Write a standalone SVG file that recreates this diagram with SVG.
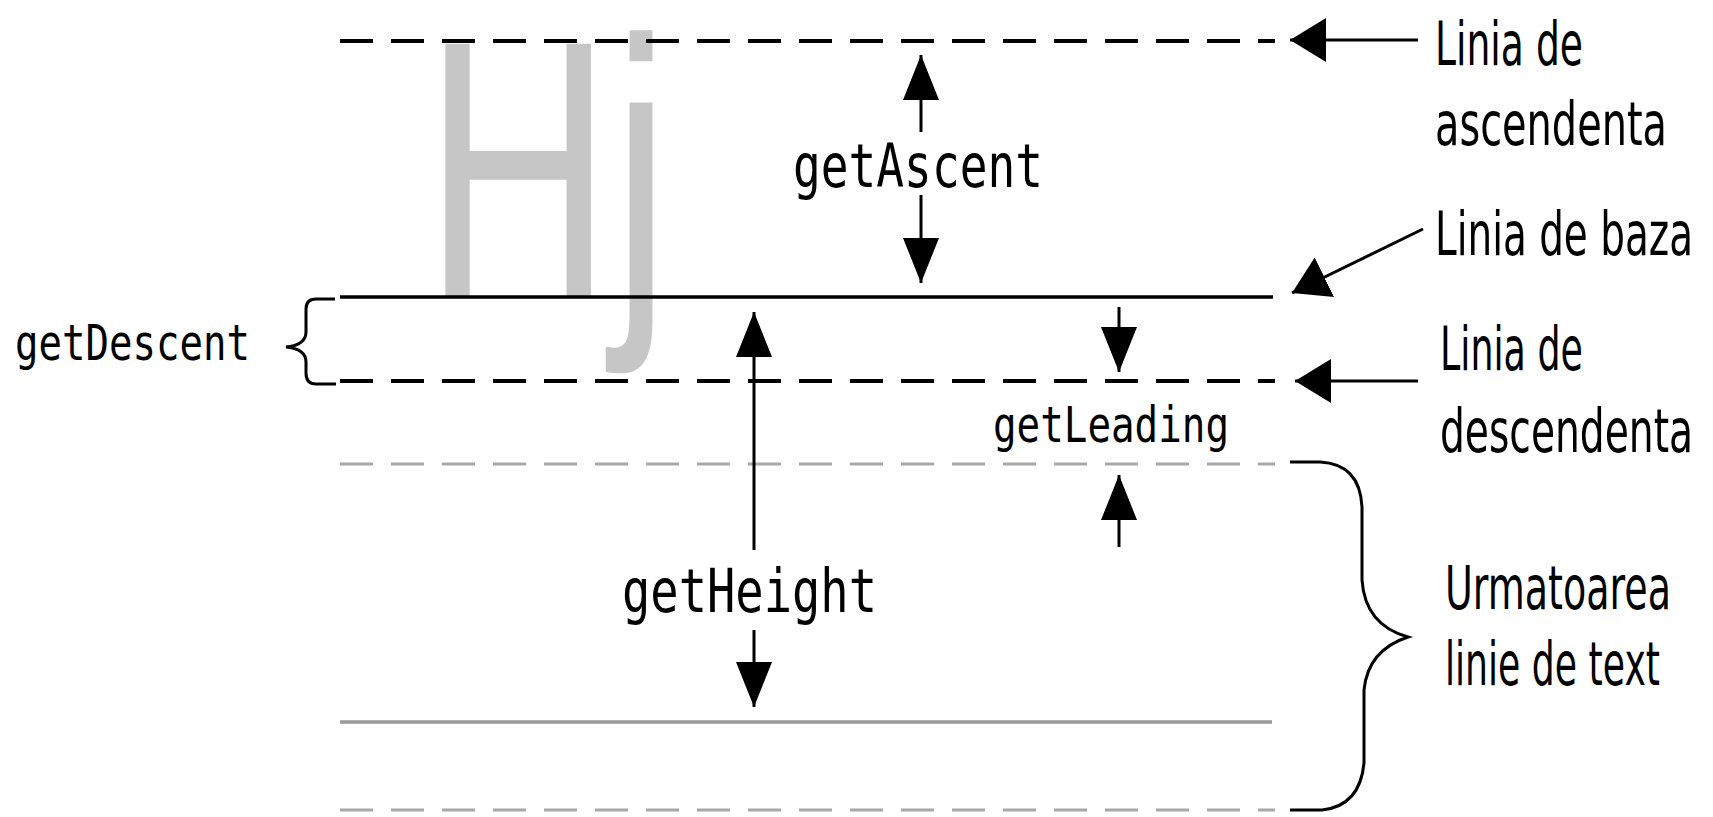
<svg xmlns="http://www.w3.org/2000/svg" width="1713" height="817" viewBox="0 0 1713 817">
<style>
.bg{fill:#ffffff}
.dash{stroke:#000;stroke-width:4;stroke-dasharray:33 18;fill:none}
.gdash{stroke:#a8a8a8;stroke-width:3;stroke-dasharray:33 18;fill:none}
.solid{stroke:#000;stroke-width:3.5;fill:none}
.gsolid{stroke:#9a9a9a;stroke-width:3.5;fill:none}
.arr{stroke:#000;stroke-width:3;fill:none}
.brace{stroke:#000;stroke-width:3;fill:none}
.mono{font-family:"DejaVu Sans Mono","Liberation Mono",monospace;fill:#000}
.sans{font-family:"DejaVu Sans","Liberation Sans",sans-serif;font-size:60px;fill:#000}
.glyph{font-family:"Liberation Sans","Arial",sans-serif;font-size:368px;fill:#c6c6c6}
</style>
<defs>
<marker id="av" viewBox="0 0 45 36" markerWidth="45" markerHeight="36" refX="45" refY="18" orient="auto" markerUnits="userSpaceOnUse"><path d="M0,0 L45,18 L0,36 z" fill="#000"/></marker>
<marker id="ah" viewBox="0 0 36 44" markerWidth="36" markerHeight="44" refX="36" refY="22" orient="auto" markerUnits="userSpaceOnUse"><path d="M0,0 L36,22 L0,44 z" fill="#000"/></marker>
</defs>
<rect class="bg" x="0" y="0" width="1713" height="817"/>

<g id="sample-glyphs">
<text class="glyph" x="424" y="297" textLength="246" lengthAdjust="spacingAndGlyphs">Hj</text>
</g>

<g id="lines">
<line id="ascent-line" class="dash" x1="340" y1="41" x2="1275" y2="41"/>
<line id="base-line" class="solid" x1="340" y1="297" x2="1273" y2="297"/>
<line id="descent-line" class="dash" x1="340" y1="381" x2="1275" y2="381"/>
<line id="next-ascent-line" class="gdash" x1="340" y1="464" x2="1275" y2="464"/>
<line id="next-base-line" class="gsolid" x1="340" y1="722" x2="1272" y2="722"/>
<line id="next-descent-line" class="gdash" x1="340" y1="810" x2="1275" y2="810"/>
</g>

<g id="connectors">
<line class="arr" x1="1418" y1="40" x2="1290" y2="40" marker-end="url(#ah)"/>
<line class="arr" x1="1423" y1="229" x2="1292" y2="293" marker-end="url(#ah)"/>
<line class="arr" x1="1418" y1="381" x2="1295" y2="381" marker-end="url(#ah)"/>
<line class="arr" x1="921" y1="132" x2="921" y2="55" marker-end="url(#av)"/>
<line class="arr" x1="921" y1="195" x2="921" y2="283" marker-end="url(#av)"/>
<line class="arr" x1="1119" y1="307" x2="1119" y2="372" marker-end="url(#av)"/>
<line class="arr" x1="1119" y1="547" x2="1119" y2="475" marker-end="url(#av)"/>
<line class="arr" x1="754" y1="550" x2="754" y2="312" marker-end="url(#av)"/>
<line class="arr" x1="754" y1="630" x2="754" y2="707" marker-end="url(#av)"/>
<path class="brace" d="M335,299 H316 Q306,299 306,309 V332 Q306,345 286,347 Q306,349 306,362 V373 Q306,384 316,384 H336"/>
<path class="brace" d="M1290,462 H1320 Q1360,464 1362,507 V580 Q1365,625 1408,637 Q1368,650 1364,690 V763 Q1360,806 1322,810 H1290"/>
</g>

<g id="label-getAscent"><text class="mono" x="793" y="187" font-size="60" textLength="250" lengthAdjust="spacingAndGlyphs">getAscent</text></g>
<g id="label-getDescent"><text class="mono" x="15" y="360" font-size="50" textLength="235" lengthAdjust="spacingAndGlyphs">getDescent</text></g>
<g id="label-getLeading"><text class="mono" x="993" y="442" font-size="50" textLength="236" lengthAdjust="spacingAndGlyphs">getLeading</text></g>
<g id="label-getHeight"><text class="mono" x="622" y="612" font-size="60" textLength="255" lengthAdjust="spacingAndGlyphs">getHeight</text></g>

<g id="label-ascendenta">
<text class="sans" x="1435" y="65" textLength="148" lengthAdjust="spacingAndGlyphs">Linia de</text>
<text class="sans" x="1435" y="145" textLength="232" lengthAdjust="spacingAndGlyphs">ascendenta</text>
</g>
<g id="label-baza">
<text class="sans" x="1435" y="255" textLength="258" lengthAdjust="spacingAndGlyphs">Linia de baza</text>
</g>
<g id="label-descendenta">
<text class="sans" x="1440" y="370" textLength="143" lengthAdjust="spacingAndGlyphs">Linia de</text>
<text class="sans" x="1440" y="452" textLength="253" lengthAdjust="spacingAndGlyphs">descendenta</text>
</g>
<g id="label-urmatoarea">
<text class="sans" x="1445" y="609" textLength="226" lengthAdjust="spacingAndGlyphs">Urmatoarea</text>
<text class="sans" x="1445" y="685" textLength="215" lengthAdjust="spacingAndGlyphs">linie de text</text>
</g>
</svg>
